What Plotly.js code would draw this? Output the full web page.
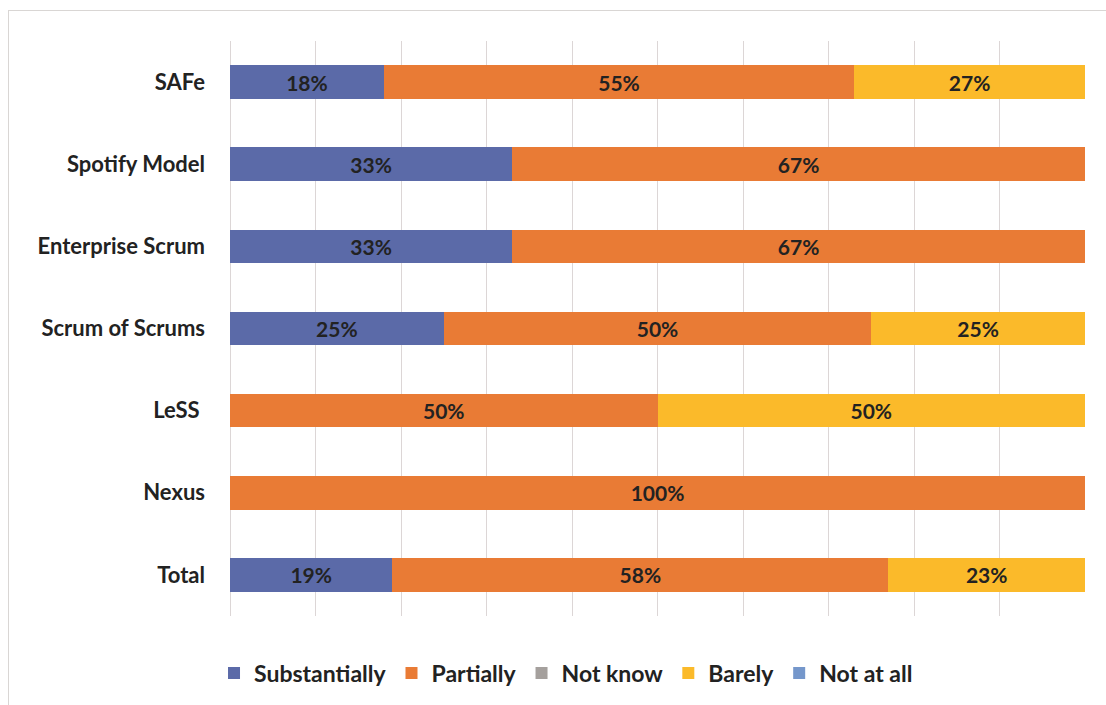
<!DOCTYPE html>
<html>
<head>
<meta charset="utf-8">
<script src="https://cdn.plot.ly/plotly-3.0.1.min.js"></script>
<style>
html,body{margin:0;padding:0;background:#fff;}
#frame{position:absolute;left:8px;top:10px;width:1200px;height:800px;border:1px solid #d9d6d4;box-sizing:border-box;}
#chart{position:absolute;left:0;top:0;width:1106px;height:705px;}
</style>
</head>
<body>
<div id="frame"></div>
<div id="chart"></div>
<script>
var categories = ["SAFe", "Spotify Model", "Enterprise Scrum", "Scrum of Scrums", "LeSS ", "Nexus", "Total"];
var substantially = [18, 33, 33, 25, 0, 0, 19];
var partially     = [55, 67, 67, 50, 50, 100, 58];
var notKnow       = [0, 0, 0, 0, 0, 0, 0];
var barely        = [27, 0, 0, 25, 50, 0, 23];
var notAtAll      = [0, 0, 0, 0, 0, 0, 0];

var seriesNames  = ["Substantially", "Partially", "Not know", "Barely", "Not at all"];
var seriesValues = [substantially, partially, notKnow, barely, notAtAll];
var seriesColors = ["#5B6AA8", "#E97B35", "#A5A09D", "#FBBA2A", "#7597CB"];

var FONT = "Lato, 'Open Sans', sans-serif";

var traces = seriesValues.map(function(vals, i){
  return {
    type: "bar",
    orientation: "h",
    name: seriesNames[i],
    y: categories,
    x: vals.map(function(v){ return v === 0 ? null : v; }),
    text: vals.map(function(v){ return v === 0 ? "" : v + "%"; }),
    textposition: "inside",
    insidetextanchor: "middle",
    textangle: 0,
    constraintext: "none",
    textfont: {family: FONT, size: 21, color: "#222222", weight: "bold"},
    marker: {color: seriesColors[i], line: {width: 0}},
    hoverinfo: "name+x"
  };
});

var layout = {
  width: 1106,
  height: 705,
  paper_bgcolor: "rgba(0,0,0,0)",
  plot_bgcolor: "rgba(0,0,0,0)",
  barmode: "stack",
  bargap: 0.59,
  margin: {l: 230, r: 21, t: 41, b: 88, pad: 0},
  xaxis: {
    range: [0, 100],
    dtick: 10,
    showticklabels: false,
    showgrid: true,
    gridcolor: "#DCD6D6",
    gridwidth: 1,
    zeroline: true,
    zerolinecolor: "#DCD6D6",
    zerolinewidth: 1,
    showline: false,
    fixedrange: true
  },
  yaxis: {
    categoryorder: "array",
    categoryarray: categories.slice().reverse(),
    autorange: true,
    showgrid: false,
    zeroline: false,
    showline: false,
    ticks: "",
    ticklabelstandoff: 24,
    tickfont: {family: FONT, size: 22, color: "#222222", weight: "bold"},
    fixedrange: true
  },
  showlegend: true,
  legend: {
    orientation: "h",
    x: 0.393,
    xanchor: "center",
    y: -0.06,
    yanchor: "top",
    traceorder: "normal",
    font: {family: FONT, size: 23, color: "#222222", weight: "bold"},
    itemwidth: 30
  },
  font: {family: FONT}
};

Plotly.newPlot("chart", traces, layout, {displayModeBar: false, staticPlot: true});
</script>
</body>
</html>
